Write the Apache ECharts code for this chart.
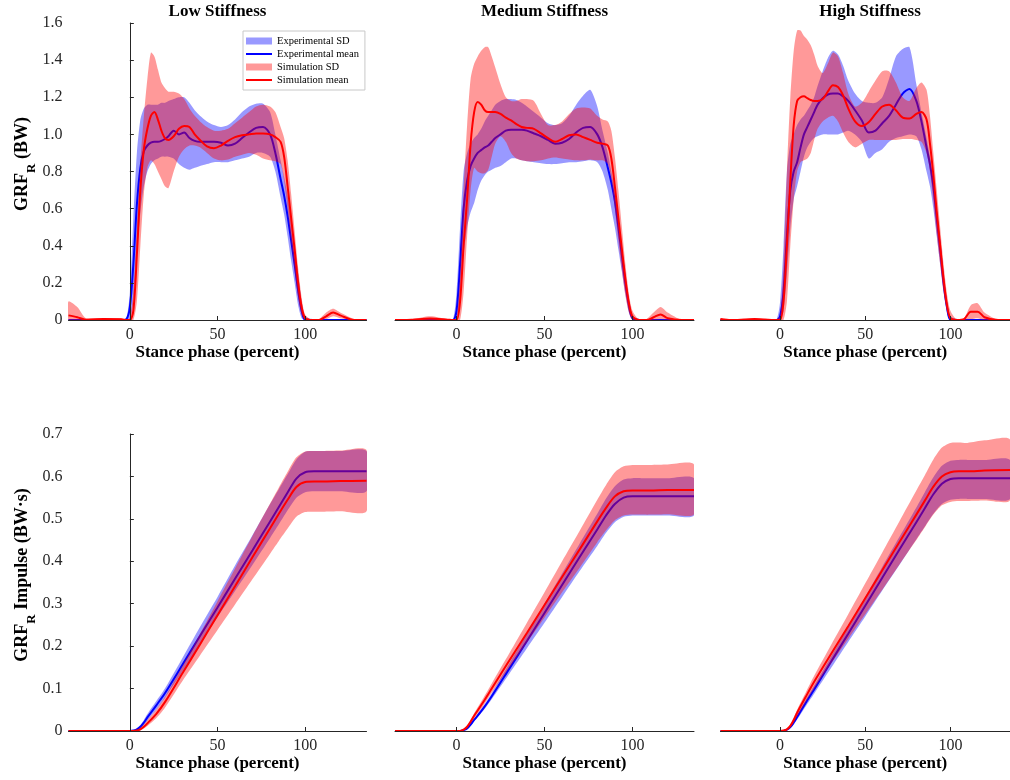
<!DOCTYPE html>
<html>
<head>
<meta charset="utf-8">
<title>GRF stiffness comparison</title>
<script src="https://cdn.jsdelivr.net/npm/echarts@6.0.0/dist/echarts.min.js"></script>
<style>
  html, body { margin: 0; padding: 0; background: #fff; }
  #chart { width: 1010px; height: 780px; }
</style>
</head>
<body>
<div id="chart"></div>
<script>
// stance phase sample points (percent), GRF row
const xTop = [
  -35, -30, -25, -15, -5, -2,
  0, 2, 4, 6, 8, 10, 12, 14, 16, 18, 20, 22,
  25, 28, 31, 34, 37, 40,
  44, 48, 52, 56, 60, 64, 68, 72, 76, 80,
  83, 86, 88, 90, 92, 94, 96, 98, 100,
  104, 108, 112, 116, 120, 128, 135
];

// Low stiffness - GRF (BW)
const lowExpMean = [
  0, 0, 0, 0, 0, 0.005,
  0.07, 0.3, 0.62, 0.82, 0.91, 0.94, 0.955, 0.96, 0.96, 0.965, 0.975, 0.99,
  1.02, 1.0, 1.01, 0.98, 0.965, 0.96,
  0.96, 0.96, 0.955, 0.94, 0.95, 0.98, 1.01, 1.035, 1.04, 1.0,
  0.9, 0.76, 0.67, 0.56, 0.43, 0.3, 0.16, 0.05, 0,
  0, 0, 0, 0, 0, 0, 0
];
const lowExpLo = [
  0, 0, 0, 0, 0, 0,
  0, 0.1, 0.35, 0.58, 0.72, 0.8, 0.84, 0.86, 0.87, 0.88, 0.88, 0.88,
  0.87, 0.84, 0.82, 0.81, 0.82, 0.83,
  0.84, 0.85, 0.85, 0.85, 0.86, 0.87, 0.88, 0.9, 0.9, 0.88,
  0.8, 0.66, 0.57, 0.45, 0.32, 0.2, 0.08, 0.01, 0,
  0, 0, 0, 0, 0, 0, 0
];
const lowExpHi = [
  0.005, 0.005, 0.005, 0.005, 0.005, 0.01,
  0.15, 0.55, 0.9, 1.08, 1.14, 1.16, 1.16, 1.16, 1.16, 1.17, 1.17, 1.18,
  1.19, 1.2, 1.2, 1.17, 1.13, 1.1,
  1.07, 1.05, 1.04, 1.05, 1.08, 1.12, 1.15, 1.165, 1.165, 1.12,
  1.0, 0.86, 0.77, 0.67, 0.54, 0.4, 0.25, 0.1, 0.02,
  0.005, 0.005, 0.005, 0.005, 0.005, 0.005, 0.005
];
const lowSimMean = [
  0.025, 0.015, 0.002, 0.005, 0.004, 0,
  0, 0.05, 0.35, 0.7, 0.92, 1.03, 1.1, 1.12, 1.08, 1.02, 0.98, 0.97,
  0.99, 1.03, 1.045, 1.04, 1.0, 0.97,
  0.935, 0.925, 0.94, 0.965, 0.985, 0.995, 1.0, 1.005, 1.005, 1.0,
  0.985, 0.96, 0.88, 0.72, 0.55, 0.38, 0.2, 0.07, 0.01,
  0, 0, 0.02, 0.04, 0.025, 0, 0
];
const lowSimLo = [
  0, 0, 0, 0, 0, 0,
  0, 0, 0.1, 0.4, 0.68, 0.82, 0.86, 0.84, 0.8, 0.76, 0.72, 0.71,
  0.8, 0.88, 0.92, 0.94, 0.94, 0.93,
  0.9, 0.87, 0.86, 0.865, 0.88, 0.89, 0.9, 0.89, 0.87, 0.86,
  0.855, 0.84, 0.75, 0.6, 0.43, 0.27, 0.12, 0.03, 0,
  0, 0, 0.005, 0.02, 0.01, 0, 0
];
const lowSimHi = [
  0.1, 0.07, 0.01, 0.01, 0.01, 0.005,
  0.01, 0.15, 0.5, 0.85, 1.1, 1.3, 1.44, 1.42, 1.35, 1.28, 1.25, 1.23,
  1.23, 1.22, 1.19, 1.14, 1.1, 1.07,
  1.04, 1.02, 1.02, 1.03, 1.06, 1.09, 1.12, 1.15, 1.16, 1.15,
  1.12, 1.04, 0.98, 0.86, 0.68, 0.48, 0.28, 0.12, 0.03,
  0, 0.005, 0.04, 0.06, 0.04, 0.005, 0
];

// Medium stiffness - GRF (BW)
const medExpMean = [
  0, 0, 0, 0, 0, 0,
  0.05, 0.3, 0.6, 0.75, 0.83, 0.87, 0.9, 0.915, 0.93, 0.94, 0.96, 0.98,
  1.0, 1.02, 1.025, 1.025, 1.025, 1.02,
  1.005, 0.99, 0.97, 0.95, 0.955, 0.975, 1.01, 1.035, 1.04, 1.0,
  0.93, 0.82, 0.74, 0.64, 0.5, 0.35, 0.2, 0.08, 0.01,
  0, 0, 0, 0, 0, 0, 0
];
const medExpLo = [
  0, 0, 0, 0, 0, 0,
  0, 0.1, 0.35, 0.5, 0.58, 0.63, 0.7, 0.75, 0.78, 0.8, 0.81, 0.82,
  0.83, 0.85, 0.87, 0.87, 0.86, 0.855,
  0.85, 0.845, 0.84, 0.84, 0.845, 0.85, 0.85, 0.855, 0.86, 0.85,
  0.8, 0.7, 0.6, 0.5, 0.38, 0.26, 0.14, 0.04, 0,
  0, 0, 0, 0, 0, 0, 0
];
const medExpHi = [
  0.005, 0.005, 0.005, 0.005, 0.005, 0.005,
  0.15, 0.5, 0.8, 0.9, 0.95, 0.98, 1.0, 1.03, 1.07, 1.1, 1.13, 1.16,
  1.18, 1.19, 1.19, 1.185, 1.17, 1.15,
  1.12, 1.09, 1.06, 1.05, 1.06, 1.1, 1.16, 1.21, 1.24, 1.15,
  1.02, 0.9, 0.8, 0.7, 0.55, 0.4, 0.25, 0.1, 0.02,
  0.005, 0.005, 0.005, 0.005, 0.005, 0.005, 0.005
];
const medSimMean = [
  0, 0, 0.002, 0.008, 0.002, 0,
  0, 0.1, 0.4, 0.65, 0.95, 1.12, 1.175, 1.16, 1.13, 1.12, 1.12, 1.12,
  1.11, 1.09, 1.075, 1.055, 1.04, 1.035,
  1.03, 1.005, 0.98, 0.96, 0.975, 0.995, 1.0, 0.985, 0.97, 0.955,
  0.95, 0.94, 0.87, 0.72, 0.55, 0.38, 0.22, 0.09, 0.02,
  0, 0, 0.015, 0.03, 0.01, 0, 0
];
const medSimLo = [
  0, 0, 0, 0, 0, 0,
  0, 0, 0.15, 0.45, 0.7, 0.82, 0.8, 0.79, 0.79, 0.81, 0.88, 0.95,
  0.99, 0.96, 0.9, 0.87, 0.86, 0.855,
  0.855, 0.86, 0.87, 0.875, 0.87, 0.865, 0.86, 0.86, 0.865, 0.86,
  0.86, 0.84, 0.76, 0.6, 0.43, 0.27, 0.13, 0.04, 0,
  0, 0, 0, 0.005, 0, 0, 0
];
const medSimHi = [
  0.005, 0.005, 0.005, 0.02, 0.005, 0.005,
  0.01, 0.25, 0.7, 1.05, 1.3, 1.38, 1.42, 1.45, 1.47, 1.47, 1.42, 1.36,
  1.27, 1.2, 1.18, 1.18, 1.19, 1.19,
  1.18, 1.11, 1.05, 1.05, 1.07, 1.11, 1.14, 1.145, 1.14, 1.1,
  1.08, 1.07, 1.02, 0.88, 0.7, 0.5, 0.3, 0.14, 0.05,
  0, 0.005, 0.04, 0.07, 0.04, 0, 0
];

// High stiffness - GRF (BW)
const highExpMean = [
  0, 0, 0, 0, 0, 0,
  0.02, 0.15, 0.45, 0.7, 0.8, 0.85, 0.93, 1.0, 1.04, 1.08, 1.12, 1.16,
  1.195, 1.215, 1.22, 1.22, 1.205, 1.18,
  1.13, 1.075, 1.01, 1.02, 1.06, 1.1, 1.16, 1.22, 1.245, 1.18,
  1.07, 0.93, 0.84, 0.72, 0.55, 0.38, 0.2, 0.07, 0,
  0, 0, 0, 0, 0, 0, 0
];
const highExpLo = [
  0, 0, 0, 0, 0, 0,
  0, 0.05, 0.25, 0.5, 0.65, 0.72, 0.8, 0.88, 0.93, 0.96, 0.98, 0.99,
  1.0, 1.0, 1.0, 1.0, 1.01, 1.02,
  1.0, 0.96, 0.87, 0.9, 0.92, 0.96, 0.98, 0.99, 1.0, 0.99,
  0.92, 0.8, 0.72, 0.6, 0.45, 0.3, 0.15, 0.04, 0,
  0, 0, 0, 0, 0, 0, 0
];
const highExpHi = [
  0.005, 0.005, 0.005, 0.005, 0.005, 0.005,
  0.1, 0.4, 0.8, 0.95, 1.0, 1.05, 1.08, 1.1, 1.13, 1.16, 1.2, 1.26,
  1.34, 1.41, 1.45, 1.43, 1.37, 1.29,
  1.22, 1.18, 1.17, 1.17, 1.2, 1.3, 1.42, 1.46, 1.47, 1.27,
  1.12, 0.98, 0.88, 0.76, 0.6, 0.43, 0.25, 0.1, 0.02,
  0.005, 0.005, 0.005, 0.005, 0.005, 0.005, 0.005
];
const highSimMean = [
  0.005, 0, 0, 0.005, 0, 0,
  0, 0.1, 0.4, 0.75, 1.05, 1.18, 1.2, 1.205, 1.195, 1.185, 1.18, 1.18,
  1.19, 1.23, 1.265, 1.255, 1.21, 1.14,
  1.07, 1.045, 1.065, 1.11, 1.15, 1.16, 1.13, 1.09, 1.085, 1.11,
  1.12, 1.08, 0.95, 0.78, 0.58, 0.4, 0.22, 0.08, 0.01,
  0, 0.005, 0.045, 0.045, 0.015, 0, 0
];
const highSimLo = [
  0, 0, 0, 0, 0, 0,
  0, 0, 0.1, 0.4, 0.65, 0.8, 0.85, 0.86, 0.87, 0.9, 0.97, 1.03,
  1.07, 1.09, 1.1, 1.07, 1.01, 0.96,
  0.93, 0.95, 0.97, 0.97, 0.97, 0.97, 0.97, 0.975, 0.975, 0.97,
  0.96, 0.9, 0.8, 0.64, 0.46, 0.3, 0.15, 0.05, 0,
  0, 0, 0.005, 0.01, 0, 0, 0
];
const highSimHi = [
  0.01, 0.005, 0.005, 0.01, 0.005, 0.005,
  0.02, 0.3, 0.8, 1.2, 1.45, 1.56, 1.56, 1.53, 1.51, 1.48, 1.43, 1.37,
  1.33, 1.38, 1.44, 1.42, 1.33, 1.22,
  1.15, 1.17, 1.23, 1.29, 1.34, 1.34, 1.28, 1.2, 1.18, 1.25,
  1.28, 1.24, 1.1, 0.9, 0.7, 0.5, 0.3, 0.14, 0.05,
  0, 0.01, 0.08, 0.09, 0.04, 0, 0
];

// stance phase sample points (percent), impulse row
const xBot = [-35, -20, -5, 0, 2, 4, 6, 8, 10, 15, 20, 30, 40, 50, 60, 70, 80, 85, 90, 95, 100, 105, 110, 120, 135];

// Low stiffness - impulse (BW·s)
const lowImpExpMean = [0, 0, 0, 0, 0.001, 0.004, 0.01, 0.02, 0.032, 0.06, 0.089, 0.156, 0.224, 0.291, 0.359, 0.426, 0.494, 0.528, 0.562, 0.595, 0.61, 0.612, 0.612, 0.612, 0.612];
const lowImpExpLo = [0, 0, 0, 0, 0, 0.002, 0.007, 0.015, 0.025, 0.05, 0.078, 0.14, 0.205, 0.268, 0.33, 0.392, 0.455, 0.487, 0.52, 0.55, 0.563, 0.565, 0.565, 0.565, 0.565];
const lowImpExpHi = [0, 0, 0, 0, 0.002, 0.006, 0.014, 0.026, 0.04, 0.07, 0.1, 0.172, 0.245, 0.316, 0.39, 0.462, 0.535, 0.57, 0.605, 0.64, 0.658, 0.66, 0.66, 0.66, 0.66];
const lowImpSimMean = [0, 0, 0, 0, 0, 0.001, 0.004, 0.01, 0.018, 0.04, 0.068, 0.136, 0.204, 0.273, 0.341, 0.41, 0.478, 0.512, 0.545, 0.575, 0.587, 0.588, 0.588, 0.589, 0.59];
const lowImpSimLo = [0, 0, 0, 0, 0, 0, 0.002, 0.006, 0.012, 0.03, 0.055, 0.118, 0.178, 0.238, 0.298, 0.358, 0.418, 0.448, 0.477, 0.505, 0.516, 0.517, 0.517, 0.518, 0.518];
const lowImpSimHi = [0, 0, 0, 0, 0.001, 0.003, 0.008, 0.016, 0.026, 0.05, 0.08, 0.153, 0.229, 0.306, 0.383, 0.46, 0.536, 0.574, 0.611, 0.645, 0.659, 0.66, 0.66, 0.661, 0.662];

// Medium stiffness - impulse (BW·s)
const medImpExpMean = [0, 0, 0, 0, 0, 0.002, 0.006, 0.015, 0.026, 0.052, 0.082, 0.147, 0.212, 0.278, 0.344, 0.41, 0.475, 0.508, 0.535, 0.55, 0.553, 0.553, 0.553, 0.553, 0.553];
const medImpExpLo = [0, 0, 0, 0, 0, 0.001, 0.005, 0.013, 0.023, 0.047, 0.075, 0.135, 0.195, 0.255, 0.316, 0.377, 0.436, 0.467, 0.492, 0.505, 0.508, 0.508, 0.508, 0.508, 0.508];
const medImpExpHi = [0, 0, 0, 0, 0, 0.002, 0.007, 0.017, 0.029, 0.057, 0.089, 0.159, 0.229, 0.3, 0.371, 0.442, 0.512, 0.548, 0.577, 0.593, 0.596, 0.596, 0.596, 0.596, 0.596];
const medImpSimMean = [0, 0, 0, 0, 0, 0.003, 0.01, 0.022, 0.036, 0.067, 0.1, 0.166, 0.231, 0.297, 0.363, 0.428, 0.494, 0.526, 0.553, 0.565, 0.567, 0.567, 0.567, 0.568, 0.568];
const medImpSimLo = [0, 0, 0, 0, 0, 0.002, 0.008, 0.018, 0.03, 0.058, 0.09, 0.149, 0.208, 0.267, 0.327, 0.385, 0.445, 0.473, 0.497, 0.508, 0.51, 0.51, 0.51, 0.511, 0.511];
const medImpSimHi = [0, 0, 0, 0, 0, 0.004, 0.013, 0.027, 0.042, 0.076, 0.112, 0.183, 0.255, 0.327, 0.4, 0.472, 0.545, 0.58, 0.61, 0.624, 0.627, 0.627, 0.627, 0.628, 0.628];

// High stiffness - impulse (BW·s)
const highImpExpMean = [0, 0, 0, 0, 0, 0.003, 0.009, 0.02, 0.033, 0.066, 0.098, 0.164, 0.229, 0.295, 0.361, 0.427, 0.492, 0.525, 0.558, 0.583, 0.594, 0.596, 0.596, 0.596, 0.596];
const highImpExpLo = [0, 0, 0, 0, 0, 0.002, 0.007, 0.016, 0.027, 0.058, 0.088, 0.149, 0.21, 0.27, 0.331, 0.391, 0.452, 0.482, 0.512, 0.535, 0.545, 0.547, 0.547, 0.547, 0.547];
const highImpExpHi = [0, 0, 0, 0, 0.001, 0.004, 0.011, 0.024, 0.038, 0.073, 0.107, 0.176, 0.246, 0.316, 0.387, 0.457, 0.527, 0.563, 0.598, 0.625, 0.637, 0.639, 0.639, 0.639, 0.639];
const highImpSimMean = [0, 0, 0, 0, 0.001, 0.004, 0.012, 0.026, 0.043, 0.08, 0.116, 0.182, 0.247, 0.313, 0.379, 0.445, 0.51, 0.543, 0.576, 0.6, 0.61, 0.612, 0.612, 0.614, 0.615];
const highImpSimLo = [0, 0, 0, 0, 0, 0.002, 0.008, 0.02, 0.034, 0.068, 0.1, 0.159, 0.217, 0.275, 0.333, 0.392, 0.45, 0.48, 0.51, 0.532, 0.54, 0.542, 0.542, 0.543, 0.544];
const highImpSimHi = [0, 0, 0, 0, 0.002, 0.006, 0.016, 0.032, 0.05, 0.09, 0.13, 0.203, 0.275, 0.348, 0.421, 0.494, 0.567, 0.603, 0.64, 0.668, 0.679, 0.68, 0.679, 0.685, 0.687];

const titles = ['Low Stiffness', 'Medium Stiffness', 'High Stiffness'];
const xTicks = [0, 50, 100];

const serif = '"Liberation Serif", "Times New Roman", serif';
const axisColor = '#262626';
const expLine = '#0000ff';
const simLine = '#ff0000';
const expFill = 'rgba(0, 0, 255, 0.4)';
const simFill = 'rgba(255, 0, 0, 0.4)';

// panel placement (px)
const colLeft = [68.5, 395, 720.5];
const colWidth = [298, 299, 299];
const rowTop = [23, 434];
const rowHeight = 297;

const topRow = [
  [lowExpMean, lowExpLo, lowExpHi, lowSimMean, lowSimLo, lowSimHi],
  [medExpMean, medExpLo, medExpHi, medSimMean, medSimLo, medSimHi],
  [highExpMean, highExpLo, highExpHi, highSimMean, highSimLo, highSimHi],
];
const botRow = [
  [lowImpExpMean, lowImpExpLo, lowImpExpHi, lowImpSimMean, lowImpSimLo, lowImpSimHi],
  [medImpExpMean, medImpExpLo, medImpExpHi, medImpSimMean, medImpSimLo, medImpSimHi],
  [highImpExpMean, highImpExpLo, highImpExpHi, highImpSimMean, highImpSimLo, highImpSimHi],
];

const pairs = (xs, ys) => xs.map((x, i) => [x, ys[i]]);

const grids = [];
const xAxes = [];
const yAxes = [];
const series = [];

function addPanel(row, col, xs, d) {
  const idx = grids.length;
  grids.push({ left: colLeft[col], width: colWidth[col], top: rowTop[row], height: rowHeight });

  xAxes.push({
    gridIndex: idx,
    type: 'value',
    min: -35,
    max: 135,
    axisLine: { show: true, onZero: false, lineStyle: { color: axisColor, width: 1 } },
    axisTick: { show: true, inside: true, length: 4, customValues: xTicks, lineStyle: { color: axisColor } },
    axisLabel: { customValues: xTicks, fontFamily: serif, fontSize: 16, color: axisColor, margin: 7 },
    splitLine: { show: false },
    name: 'Stance phase (percent)',
    nameLocation: 'middle',
    nameGap: 24,
    nameTextStyle: { fontFamily: serif, fontSize: 17, fontWeight: 'bold', color: '#000' },
    z: 10,
  });

  yAxes.push({
    gridIndex: idx,
    type: 'value',
    min: 0,
    max: row === 0 ? 1.6 : 0.7,
    interval: row === 0 ? 0.2 : 0.1,
    show: col === 0,
    axisLine: { show: true, lineStyle: { color: axisColor, width: 1 } },
    axisTick: { show: true, inside: true, length: 4, lineStyle: { color: axisColor } },
    axisLabel: {
      fontFamily: serif,
      fontSize: 16,
      color: axisColor,
      margin: 6,
      formatter: (v) => (v === 0 ? '0' : v.toFixed(1)),
    },
    splitLine: { show: false },
    z: 10,
  });

  // SD band: one filled polygon between lo and hi, placed through the axes
  const band = (name, lo, hi, color, z) => ({
    type: 'custom',
    name,
    z,
    xAxisIndex: idx,
    yAxisIndex: idx,
    data: xs.map((x, i) => [x, lo[i], hi[i]]),
    encode: { x: 0, y: [1, 2] },
    clip: true,
    silent: true,
    itemStyle: { color },
    renderItem: (params, api) => {
      if (params.dataIndex !== 0) return;
      const upper = xs.map((x, i) => api.coord([x, hi[i]]));
      const lower = xs.map((x, i) => api.coord([x, lo[i]])).reverse();
      return {
        type: 'polygon',
        shape: { points: upper.concat(lower), smooth: 0.25 },
        style: { fill: color },
      };
    },
  });
  const mean = (name, ys, color, z) => ({
    type: 'line',
    name,
    z,
    xAxisIndex: idx,
    yAxisIndex: idx,
    data: pairs(xs, ys),
    smooth: 0.3,
    symbol: 'none',
    silent: true,
    itemStyle: { color },
    lineStyle: { color, width: 2 },
  });

  // MATLAB drawing order: exp SD, exp mean, sim SD, sim mean
  series.push(
    band('Experimental SD', d[1], d[2], expFill, 1),
    mean('Experimental mean', d[0], expLine, 2),
    band('Simulation SD', d[4], d[5], simFill, 3),
    mean('Simulation mean', d[3], simLine, 4)
  );
}

topRow.forEach((d, c) => addPanel(0, c, xTop, d));
botRow.forEach((d, c) => addPanel(1, c, xBot, d));

const yName = (text, x, y) => ({
  type: 'text',
  x,
  y,
  rotation: Math.PI / 2,
  silent: true,
  style: {
    text,
    align: 'center',
    verticalAlign: 'middle',
    fill: '#000',
    rich: {
      b: { fontFamily: serif, fontSize: 18, fontWeight: 'bold', lineHeight: 20, verticalAlign: 'top' },
      s: { fontFamily: serif, fontSize: 13, fontWeight: 'bold', lineHeight: 13, padding: [12, 0, 0, 0], verticalAlign: 'top' },
    },
  },
});

const graphics = titles.map((t, c) => ({
  type: 'text',
  x: colLeft[c] + colWidth[c] / 2,
  y: 12,
  silent: true,
  style: { text: t, font: 'bold 17px ' + serif, fill: '#000', align: 'center', verticalAlign: 'middle' },
}));
graphics.push(yName('{b|GRF}{s|R}{b| (BW)}', 23, 164));
graphics.push(yName('{b|GRF}{s|R}{b| Impulse (BW·s)}', 23.5, 575));

const lineIcon = 'path://M0,0H26V2H0Z';

const chart = echarts.init(document.getElementById('chart'), null, { renderer: 'canvas' });
chart.setOption({
  animation: false,
  backgroundColor: '#fff',
  grid: grids,
  xAxis: xAxes,
  yAxis: yAxes,
  series,
  graphic: graphics,
  legend: {
    orient: 'vertical',
    left: 243,
    top: 31,
    z: 20,
    padding: [4, 6, 4, 3],
    itemGap: 1,
    itemWidth: 26,
    itemHeight: 7,
    backgroundColor: '#fff',
    borderColor: '#c8c8c8',
    borderWidth: 1,
    borderRadius: 0,
    selectedMode: false,
    textStyle: { fontFamily: serif, fontSize: 10.5, color: '#000', lineHeight: 12 },
    data: [
      { name: 'Experimental SD', icon: 'rect' },
      { name: 'Experimental mean', icon: lineIcon },
      { name: 'Simulation SD', icon: 'rect' },
      { name: 'Simulation mean', icon: lineIcon },
    ],
  },
});
</script>
</body>
</html>
